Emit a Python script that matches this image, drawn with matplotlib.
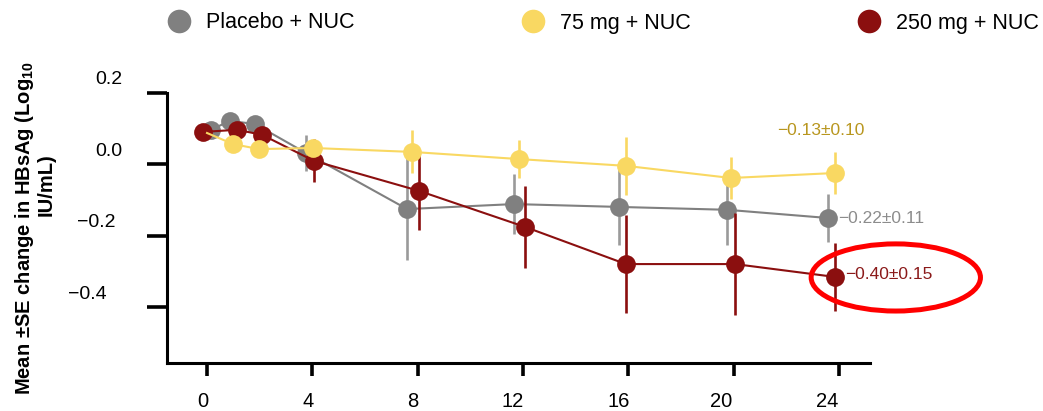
import matplotlib
matplotlib.use("Agg")
import matplotlib.pyplot as plt
from matplotlib.lines import Line2D
from matplotlib.patches import Ellipse
from matplotlib.transforms import ScaledTranslation

plt.rcParams["font.family"] = ["Liberation Sans", "DejaVu Sans"]
plt.rcParams["mathtext.fontset"] = "custom"
plt.rcParams["mathtext.rm"] = "Liberation Sans"
plt.rcParams["mathtext.bf"] = "Liberation Sans:bold"

# data (weeks, mean change, SE)
groups = ["Placebo + NUC", "75 mg + NUC", "250 mg + NUC"]

placebo_week = [0.15, 0.87, 1.82, 3.76, 7.6, 11.66, 15.65, 19.75, 23.58]
placebo_mean = [0.097, 0.122, 0.113, 0.032, -0.125, -0.111, -0.119, -0.127, -0.150]
placebo_se = [0, 0, 0, 0.05, 0.143, 0.083, 0.108, 0.10, 0.067]

mg75_week = [0.0, 0.99, 1.97, 4.03, 7.79, 11.85, 15.91, 19.9, 23.85]
mg75_mean = [0.088, 0.057, 0.043, 0.046, 0.035, 0.015, -0.004, -0.038, -0.024]
mg75_se = [0, 0, 0, 0.02, 0.06, 0.053, 0.081, 0.06, 0.06]

mg250_week = [-0.15, 1.14, 2.09, 4.06, 8.05, 12.08, 15.91, 20.05, 23.85]
mg250_mean = [0.091, 0.097, 0.083, 0.010, -0.074, -0.175, -0.279, -0.279, -0.315]
mg250_se = [0, 0, 0, 0.06, 0.11, 0.115, 0.137, 0.143, 0.095]

end_labels = ["\u22120.22\u00b10.11", "\u22120.13\u00b10.10", "\u22120.40\u00b10.15"]

x_ticks = [0, 4, 8, 12, 16, 20, 24]
y_ticks = [0.2, 0.0, -0.2, -0.4]

colors = ["#808080", "#F9D862", "#8B0F0F"]
bar_colors = ["#9A9A9A", "#F9D862", "#8B0F0F"]
text_colors = ["#8C8C8C", "#B8961E", "#8B1A1A"]

fig = plt.figure(figsize=(10.43, 4.11), dpi=100)
ax = fig.add_axes([167 / 1043, 48 / 411, 703 / 1043, 270 / 411])

series = [
    (placebo_week, placebo_mean, placebo_se, 0),
    (mg250_week, mg250_mean, mg250_se, 2),
    (mg75_week, mg75_mean, mg75_se, 1),
]
for k, (wk, mean, se, ci) in enumerate(series):
    z = 2 + 2 * k
    ax.errorbar(wk, mean, yerr=se, fmt="none", ecolor=bar_colors[ci],
                elinewidth=1.9, capsize=0, zorder=z)
    start = 1 if ci == 1 else 0
    ax.plot(wk, mean, color=colors[ci], lw=1.5, marker="o", ms=13.5,
            markevery=slice(start, None), mec="none", zorder=z + 1)

# end-of-study labels
ax.text(placebo_week[-1] + 0.4, placebo_mean[-1], end_labels[0],
        color=text_colors[0], fontsize=12.5, ha="left", va="center")
ax.text(23.3, 0.095, end_labels[1], color=text_colors[1], fontsize=12.5,
        ha="center", va="center")
ax.text(mg250_week[-1] + 0.4, mg250_mean[-1] + 0.008, end_labels[2],
        color=text_colors[2], fontsize=12.5, ha="left", va="center", zorder=10)

ax.add_patch(Ellipse((26.16, -0.3165), 6.43, 0.188, fill=False,
                     edgecolor="#FF0000", lw=3.6, clip_on=False, zorder=9))

ax.set_xlim(-1.52, 25.18)
ax.set_ylim(-0.556, 0.2)
ax.set_xticks(x_ticks)
ax.set_xticklabels([str(t) for t in x_ticks])
ax.set_yticks(y_ticks)
ax.set_yticklabels([f"{t:.1f}".replace("-", "\u2212") for t in y_ticks])

for side in ["top", "right"]:
    ax.spines[side].set_visible(False)
for side in ["left", "bottom"]:
    ax.spines[side].set_linewidth(2.2)

ax.tick_params(axis="y", length=14.4, width=2.6, pad=18, labelsize=14)
ax.tick_params(axis="x", length=9.4, width=2.6, pad=11.5, labelsize=14.5)

for lab, dx in zip(ax.get_yticklabels(), [0, 0, -6, -15]):
    lab.set_transform(lab.get_transform() + ScaledTranslation(dx / 100, 15 / 100, fig.dpi_scale_trans))
for lab, dx in zip(ax.get_xticklabels(), [-4, -4, -5, -10, -10, -12, -12]):
    lab.set_transform(lab.get_transform() + ScaledTranslation(dx / 100, 0, fig.dpi_scale_trans))

fig.text(25 / 1043, 1 - 228 / 411, r"Mean ±SE change in HBsAg (Log$_{\mathbf{10}}$",
         rotation=90, ha="center", va="center", fontsize=14.5, fontweight="bold")
fig.text(46 / 1043, 1 - 185 / 411, "IU/mL)", rotation=90, ha="center",
         va="center", fontsize=14.5, fontweight="bold")

handles = [Line2D([], [], ls="none", marker="o", ms=17, color=c, mec="none")
           for c in colors]
fig.legend(handles, groups, loc="center left",
           bbox_to_anchor=(168 / 1043, 1 - 23 / 411), ncol=3, frameon=False,
           fontsize=15.5, handlelength=1.0, handletextpad=0.75,
           columnspacing=7.8, borderpad=0, borderaxespad=0)

fig.savefig("out.png", dpi=100)
